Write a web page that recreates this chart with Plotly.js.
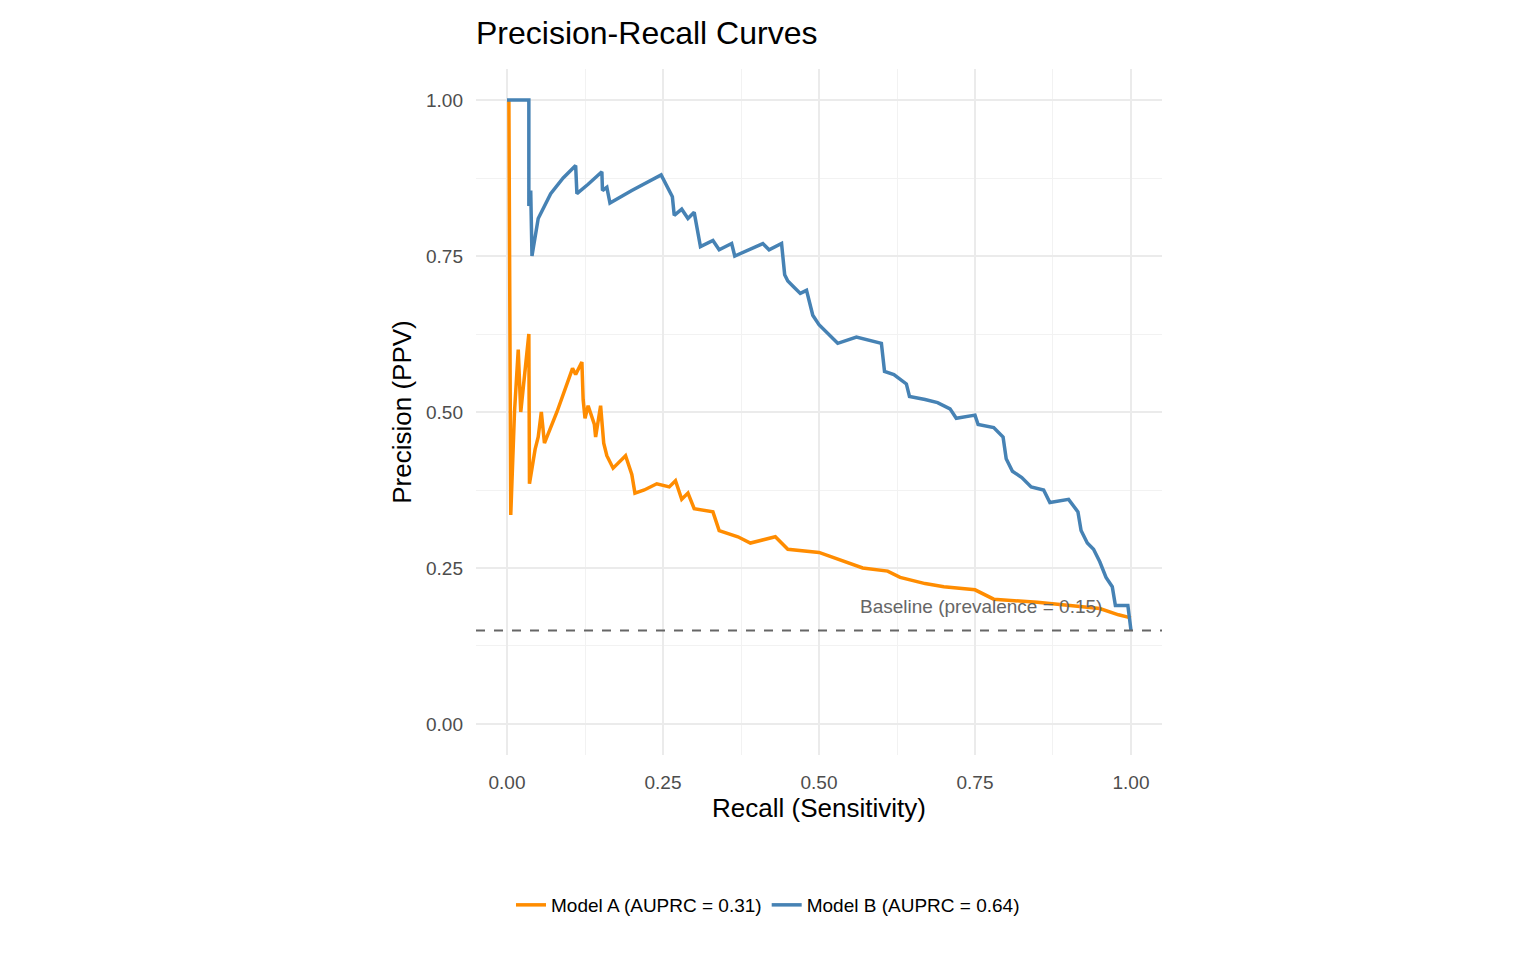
<!DOCTYPE html>
<html>
<head>
<meta charset="utf-8">
<script src="https://cdn.plot.ly/plotly-3.0.1.min.js"></script>
<style>body{margin:0;background:#fff}</style>
</head>
<body>
<div id="plot" style="width:1536px;height:960px"></div>
<script>
var recallA = [0.003,0.006,0.012,0.018,0.022,0.035,0.036,0.045,0.05,0.055,0.06,0.08,0.105,0.11,0.12,0.122,0.125,0.13,0.14,0.142,0.15,0.155,0.16,0.17,0.19,0.2,0.205,0.22,0.24,0.26,0.27,0.28,0.29,0.3,0.33,0.34,0.37,0.39,0.43,0.45,0.5,0.54,0.57,0.61,0.63,0.67,0.7,0.75,0.78,0.85,0.9,0.95,0.98,1.0];
var precA = [1.0,0.335,0.5,0.6,0.5,0.625,0.385,0.44,0.46,0.5,0.45,0.5,0.57,0.56,0.58,0.52,0.49,0.51,0.48,0.46,0.51,0.45,0.43,0.41,0.43,0.40,0.37,0.375,0.385,0.38,0.39,0.36,0.37,0.345,0.34,0.31,0.3,0.29,0.3,0.28,0.275,0.26,0.25,0.245,0.235,0.225,0.22,0.215,0.2,0.195,0.19,0.185,0.175,0.17];
var recallB = [0.0,0.035,0.035,0.038,0.04,0.05,0.07,0.09,0.11,0.112,0.13,0.152,0.153,0.16,0.165,0.2,0.247,0.255,0.265,0.268,0.28,0.29,0.3,0.31,0.33,0.34,0.36,0.365,0.41,0.42,0.44,0.445,0.45,0.46,0.47,0.48,0.49,0.5,0.51,0.53,0.56,0.58,0.6,0.605,0.62,0.64,0.645,0.67,0.69,0.71,0.72,0.75,0.755,0.78,0.795,0.8,0.81,0.825,0.84,0.86,0.87,0.9,0.915,0.92,0.93,0.94,0.95,0.96,0.97,0.975,0.995,1.0];
var precB = [1.0,1.0,0.83,0.855,0.75,0.81,0.85,0.875,0.895,0.85,0.865,0.885,0.855,0.86,0.835,0.855,0.88,0.865,0.845,0.815,0.825,0.81,0.82,0.765,0.775,0.76,0.77,0.75,0.77,0.76,0.77,0.72,0.71,0.70,0.69,0.695,0.655,0.64,0.63,0.61,0.62,0.615,0.61,0.565,0.56,0.545,0.525,0.52,0.515,0.505,0.49,0.495,0.48,0.475,0.46,0.425,0.405,0.395,0.38,0.375,0.355,0.36,0.34,0.31,0.29,0.28,0.26,0.235,0.22,0.19,0.19,0.15];
var prevalence = 0.15;
var xTicks = [0, 0.25, 0.5, 0.75, 1];
var tickText = ["0.00","0.25","0.50","0.75","1.00"];

var data = [
  {x: recallA, y: precA, mode: 'lines', line: {color: '#FF8C00', width: 3.5}, name: 'Model A (AUPRC = 0.31)'},
  {x: recallB, y: precB, mode: 'lines', line: {color: '#4682B4', width: 3.5}, name: 'Model B (AUPRC = 0.64)'}
];

var ax = {
  tickvals: xTicks, ticktext: tickText, gridcolor: '#ebebeb', gridwidth: 2,
  minor: {dtick: 0.125, tick0: 0.125, showgrid: true, gridcolor: '#f2f2f2', gridwidth: 1},
  zeroline: false, showline: false, ticks: '', automargin: false,
  tickfont: {size: 19, color: '#4d4d4d'}, range: [-0.0497, 1.0497]
};

var layout = {
  width: 1536, height: 960,
  margin: {l: 476, r: 374, t: 69, b: 205},
  paper_bgcolor: 'white', plot_bgcolor: 'white',
  font: {family: 'Liberation Sans, Arial, sans-serif'},
  title: {text: 'Precision-Recall Curves', x: 476/1536, xanchor: 'left', y: 1 - 33/960, yanchor: 'middle', font: {size: 32, color: '#000'}},
  xaxis: Object.assign({}, ax, {ticklabelstandoff: 14, title: {text: 'Recall (Sensitivity)', font: {size: 26, color: '#000'}, standoff: 6}}),
  yaxis: Object.assign({}, ax, {ticklabelstandoff: 12, title: {text: 'Precision (PPV)', font: {size: 26, color: '#000'}, standoff: 6}}),
  shapes: [{type: 'line', xref: 'paper', x0: 0, x1: 1, yref: 'y', y0: prevalence, y1: prevalence,
    line: {color: '#666666', width: 2, dash: 'dash'}}],
  annotations: [{x: 0.957, y: 0.1875, xref: 'x', yref: 'y', xanchor: 'right', yanchor: 'middle',
    text: 'Baseline (prevalence = ' + prevalence.toFixed(2) + ')', showarrow: false, font: {size: 19, color: '#666666'}}],
  legend: {orientation: 'h', x: 0.5, xanchor: 'center', xref: 'container', yref: 'container', y: 1 - 905/960, yanchor: 'middle', font: {size: 19, color: '#000'}}
};

Plotly.newPlot('plot', data, layout, {displayModeBar: false});
</script>
</body>
</html>
